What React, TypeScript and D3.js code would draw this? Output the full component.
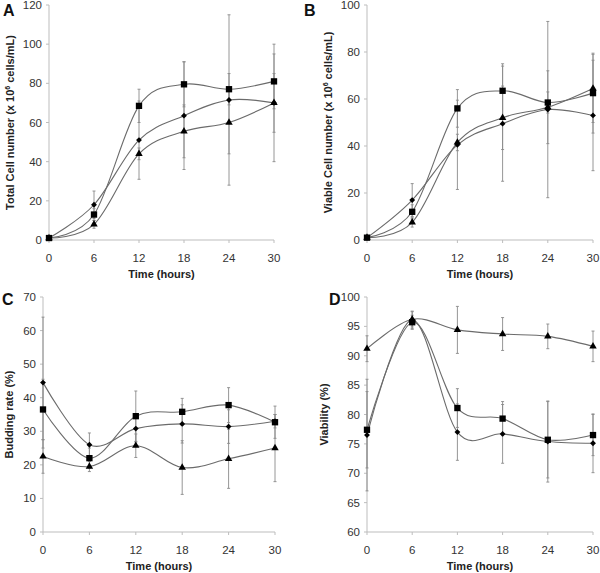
import React from 'react';
import * as d3 from 'd3';

// sampling times (hours)
const times = [0, 6, 12, 18, 24, 30];

// A - total cell number
const totalSquare = [1, 13, 68.5, 79.5, 77, 81];
const totalSquareErr = [0.5, 3, 8.5, 11.5, 8, 14];
const totalDiamond = [1, 18, 51, 63.5, 71.5, 70];
const totalDiamondErr = [0.5, 7, 20, 27.5, 43.5, 30];
const totalTriangle = [1, 8, 44, 55.5, 60, 70];
const totalTriangleErr = [0.5, 2, 3, 13.5, 16, 15];

// B - viable cell number
const viableSquare = [1, 12, 56, 63.5, 58.5, 62.5];
const viableSquareErr = [0.5, 3, 8, 11.5, 4.5, 17];
const viableDiamond = [1, 17, 40.5, 49.5, 55.5, 53];
const viableDiamondErr = [0.5, 7, 19, 24.5, 37.5, 23.5];
const viableTriangle = [1, 7.5, 41.5, 52, 56.5, 64.5];
const viableTriangleErr = [0.5, 2, 3.5, 13.5, 15.5, 14.5];

// C - budding rate
const buddingSquare = [36.5, 22, 34.5, 35.8, 37.8, 32.7];
const buddingSquareErr = [9, 3, 7.5, 4, 5.2, 4.8];
const buddingDiamond = [44.5, 26, 30.8, 32.2, 31.4, 33];
const buddingDiamondErr = [19.5, 3.5, 4, 5.7, 5, 2];
const buddingTriangle = [22.5, 19.5, 25.7, 19.2, 21.8, 25];
const buddingTriangleErr = [5, 1.5, 3.5, 8, 8.8, 10];

// D - viability
const viabilitySquare = [77.4, 95.7, 81.1, 79.3, 75.7, 76.5];
const viabilitySquareErr = [6.5, 1.2, 3.3, 2.9, 6.5, 3.5];
const viabilityDiamond = [76.5, 96.1, 77, 76.7, 75.4, 75.1];
const viabilityDiamondErr = [9.5, 1.5, 4.8, 5, 6.9, 5];
const viabilityTriangle = [91.2, 96.2, 94.4, 93.7, 93.3, 91.6];
const viabilityTriangleErr = [2.2, 1.3, 4, 2.8, 2.1, 2.6];

const xTicks = [0, 6, 12, 18, 24, 30];

type Series = { shape: string; values: number[]; err: number[] };

const panels = [
  {
    letter: 'A', lx: 3, ly: 16,
    x0: 49, x1: 274, y0: 240, y1: 5, titleX: 10,
    domain: [0, 120], ticks: d3.range(0, 121, 20),
    title: ['Total Cell number (x 10', '6', ' cells/mL)'],
    series: [
      { shape: 'triangle', values: totalTriangle, err: totalTriangleErr },
      { shape: 'diamond', values: totalDiamond, err: totalDiamondErr },
      { shape: 'square', values: totalSquare, err: totalSquareErr },
    ],
  },
  {
    letter: 'B', lx: 304, ly: 16,
    x0: 367, x1: 593, y0: 240, y1: 5, titleX: 328,
    domain: [0, 100], ticks: d3.range(0, 101, 20),
    title: ['Viable Cell number (x 10', '6', ' cells/mL)'],
    series: [
      { shape: 'triangle', values: viableTriangle, err: viableTriangleErr },
      { shape: 'diamond', values: viableDiamond, err: viableDiamondErr },
      { shape: 'square', values: viableSquare, err: viableSquareErr },
    ],
  },
  {
    letter: 'C', lx: 2, ly: 305,
    x0: 43, x1: 275, y0: 532, y1: 297, titleX: 9,
    domain: [0, 70], ticks: d3.range(0, 71, 10),
    title: ['Budding rate (%)'],
    series: [
      { shape: 'triangle', values: buddingTriangle, err: buddingTriangleErr },
      { shape: 'diamond', values: buddingDiamond, err: buddingDiamondErr },
      { shape: 'square', values: buddingSquare, err: buddingSquareErr },
    ],
  },
  {
    letter: 'D', lx: 329, ly: 305,
    x0: 367, x1: 593, y0: 532, y1: 297, titleX: 324,
    domain: [60, 100], ticks: d3.range(60, 101, 5),
    title: ['Viability (%)'],
    series: [
      { shape: 'triangle', values: viabilityTriangle, err: viabilityTriangleErr },
      { shape: 'diamond', values: viabilityDiamond, err: viabilityDiamondErr },
      { shape: 'square', values: viabilitySquare, err: viabilitySquareErr },
    ],
  },
];

const symbols: Record<string, any> = {
  square: d3.symbol().type(d3.symbolSquare).size(40),
  diamond: d3.symbol().type(d3.symbolSquare).size(17),
  triangle: d3.symbol().type(d3.symbolTriangle).size(24),
};

const font = 'Arial, "Liberation Sans", sans-serif';
const axisColor = '#bdbdbd';

function Panel({ p }: { p: any }) {
  const x = d3.scaleLinear().domain([0, 30]).range([p.x0, p.x1]);
  const y = d3.scaleLinear().domain(p.domain).range([p.y0, p.y1]);
  const line = d3.line<number>()
    .x((d, i) => x(times[i]))
    .y(d => y(d))
    .curve(d3.curveCatmullRom.alpha(0));
  const midY = (p.y0 + p.y1) / 2;

  return (
    <g>
      <text x={p.lx} y={p.ly} fontFamily={font} fontWeight="bold" fontSize={16} fill="#111">{p.letter}</text>

      {/* axes */}
      <line x1={p.x0} x2={p.x0} y1={p.y1} y2={p.y0} stroke={axisColor} strokeWidth={1} />
      <line x1={p.x0} x2={p.x1} y1={p.y0} y2={p.y0} stroke={axisColor} strokeWidth={1} />
      {p.ticks.map((t: number) => (
        <g key={'y' + t}>
          <line x1={p.x0 - 3} x2={p.x0} y1={y(t)} y2={y(t)} stroke={axisColor} />
          <text x={p.x0 - 7} y={y(t) + 4} textAnchor="end" fontFamily={font} fontSize={11.5} fill="#333">{t}</text>
        </g>
      ))}
      {xTicks.map(t => (
        <g key={'x' + t}>
          <line x1={x(t)} x2={x(t)} y1={p.y0} y2={p.y0 + 3} stroke={axisColor} />
          <text x={x(t)} y={p.y0 + 22} textAnchor="middle" fontFamily={font} fontSize={11.5} fill="#333">{t}</text>
        </g>
      ))}
      <text x={(p.x0 + p.x1) / 2} y={p.y0 + 38} textAnchor="middle" fontFamily={font} fontWeight="bold" fontSize={11} fill="#222">Time (hours)</text>
      <text transform={`translate(${p.titleX},${midY}) rotate(-90)`} textAnchor="middle" dy="4"
        fontFamily={font} fontWeight="bold" fontSize={11} fill="#222">
        {p.title.length > 1 ? (
          <>
            {p.title[0]}
            <tspan fontSize={7} dy={-4}>{p.title[1]}</tspan>
            <tspan dy={4}>{p.title[2]}</tspan>
          </>
        ) : p.title[0]}
      </text>

      {/* lines */}
      {p.series.map((s: Series) => (
        <path key={'l' + s.shape} d={line(s.values) || ''} fill="none" stroke="#6b6b6b" strokeWidth={1.1} />
      ))}

      {/* error bars */}
      {p.series.map((s: Series) => s.values.map((v, i) => {
        const cx = x(times[i]);
        const lo = y(Math.max(p.domain[0], v - s.err[i]));
        const hi = y(v + s.err[i]);
        return (
          <g key={'e' + s.shape + i} stroke="#8a8a8a" strokeWidth={0.9}>
            <line x1={cx} x2={cx} y1={lo} y2={hi} />
            <line x1={cx - 1.5} x2={cx + 1.5} y1={lo} y2={lo} />
            <line x1={cx - 1.5} x2={cx + 1.5} y1={hi} y2={hi} />
          </g>
        );
      }))}

      {/* markers */}
      {p.series.map((s: Series) => s.values.map((v, i) => (
        <path key={'m' + s.shape + i} d={symbols[s.shape]() || ''}
          transform={`translate(${x(times[i])},${y(v)})${s.shape === 'diamond' ? ' rotate(45)' : ''}`}
          fill="#000" />
      )))}
    </g>
  );
}

export default function App() {
  return (
    <svg width={600} height={573} style={{ position: 'absolute', left: 0, top: 0, background: '#fff' }}>
      <rect width={600} height={573} fill="#fff" />
      {panels.map(p => <Panel key={p.letter} p={p} />)}
    </svg>
  );
}
